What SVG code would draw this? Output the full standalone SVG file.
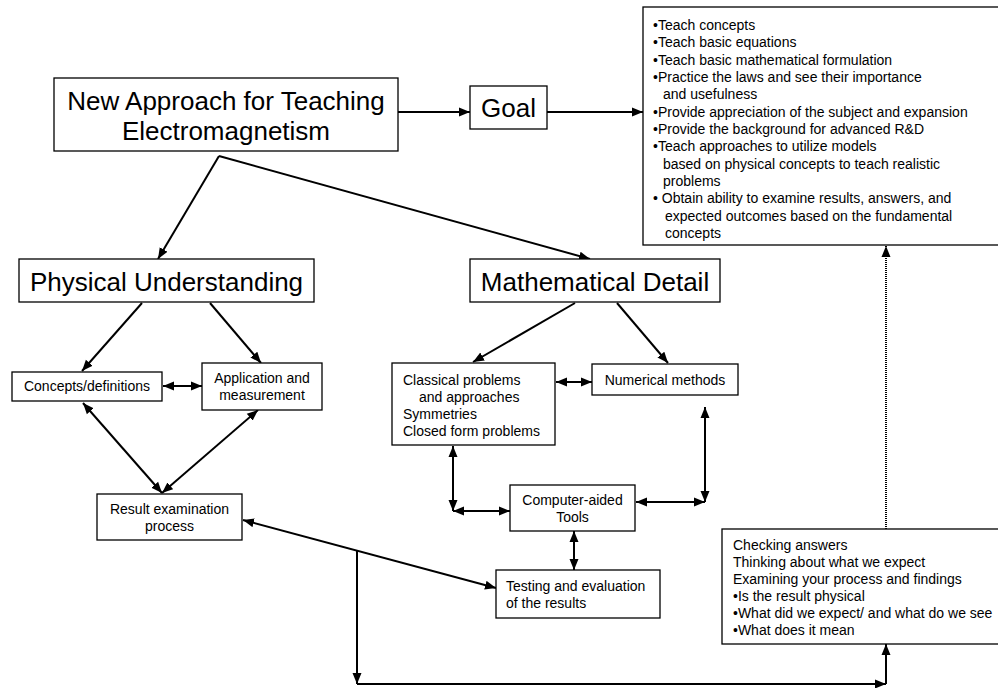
<svg xmlns="http://www.w3.org/2000/svg" width="998" height="688" viewBox="0 0 998 688">
<defs>
<style>
.box{fill:#fff;stroke:#000;stroke-width:1.3}
.big{font-family:"Liberation Sans",Arial,sans-serif;font-size:26px;fill:#000;text-anchor:middle}
.sm{font-family:"Liberation Sans",Arial,sans-serif;font-size:14px;fill:#000}
.c{text-anchor:middle}
.ln{fill:none;stroke:#000;stroke-width:2}
.one{marker-end:url(#ah)}
.two{marker-start:url(#ah);marker-end:url(#ah)}
.dot{stroke-dasharray:1 1}
</style>
<marker id="ah" markerUnits="userSpaceOnUse" markerWidth="12" markerHeight="10" viewBox="0 0 12 10" refX="11" refY="5" orient="auto-start-reverse">
<path d="M0,0.5 L11,5 L0,9.5 z" fill="#000"/>
</marker>
</defs>
<rect width="998" height="688" fill="#fff"/>
<g id="connectors">
<line class="ln one" x1="398" y1="112" x2="470" y2="112"/>
<line class="ln one" x1="547" y1="112" x2="643" y2="112"/>
<line class="ln one" x1="219" y1="156" x2="158" y2="259"/>
<line class="ln one" x1="219" y1="156" x2="590" y2="259"/>
<line class="ln one" x1="142" y1="303" x2="82" y2="371"/>
<line class="ln one" x1="210" y1="303" x2="261" y2="363"/>
<line class="ln two" x1="163" y1="386" x2="202" y2="386"/>
<line class="ln two" x1="83" y1="403" x2="162" y2="493"/>
<line class="ln two" x1="258" y1="410" x2="162" y2="493"/>
<line class="ln two" x1="243" y1="520" x2="496" y2="588"/>
<line class="ln one" x1="575" y1="303" x2="473" y2="362"/>
<line class="ln one" x1="617" y1="303" x2="668" y2="363"/>
<line class="ln two" x1="556" y1="382" x2="592" y2="382"/>
<line class="ln two" x1="453" y1="446" x2="453" y2="511"/>
<line class="ln two" x1="453" y1="511" x2="510" y2="511"/>
<line class="ln two" x1="705" y1="407" x2="705" y2="502"/>
<line class="ln two" x1="636" y1="502" x2="705" y2="502"/>
<line class="ln two" x1="574" y1="531" x2="574" y2="570"/>
<line class="ln one" x1="357" y1="551" x2="357" y2="684"/>
<line class="ln one" x1="357" y1="684" x2="886" y2="684"/>
<line class="ln one" x1="886" y1="684" x2="886" y2="644"/>
<line class="ln one dot" x1="886" y1="529" x2="886" y2="246"/>
</g>
<g id="main">
<rect class="box" x="54" y="78" width="344" height="73"/>
<text class="big" x="226" y="110">New Approach for Teaching</text>
<text class="big" x="226" y="140">Electromagnetism</text>
</g>
<g id="goal">
<rect class="box" x="470" y="86" width="77" height="43"/>
<text class="big" x="508.5" y="117">Goal</text>
</g>
<g id="goals-list">
<rect class="box" x="643" y="7" width="360" height="238"/>
<text class="sm" x="653" y="30">•Teach concepts</text>
<text class="sm" x="653" y="47.3">•Teach basic equations</text>
<text class="sm" x="653" y="64.7">•Teach basic mathematical formulation</text>
<text class="sm" x="653" y="82">•Practice the laws and see their importance</text>
<text class="sm" x="663" y="99.3">and usefulness</text>
<text class="sm" x="653" y="116.7">•Provide appreciation of the subject and expansion</text>
<text class="sm" x="653" y="134">•Provide the background for advanced R&amp;D</text>
<text class="sm" x="653" y="151.3">•Teach approaches to utilize models</text>
<text class="sm" x="663" y="168.7">based on physical concepts to teach realistic</text>
<text class="sm" x="663" y="186">problems</text>
<text class="sm" x="653" y="203.3">• Obtain ability to examine results, answers, and</text>
<text class="sm" x="665" y="220.7">expected outcomes based on the fundamental</text>
<text class="sm" x="665" y="238">concepts</text>
</g>
<g id="physical">
<rect class="box" x="19" y="259" width="295" height="43"/>
<text class="big" x="166.5" y="291">Physical Understanding</text>
</g>
<g id="mathematical">
<rect class="box" x="470" y="259" width="250" height="43"/>
<text class="big" x="595" y="291">Mathematical Detail</text>
</g>
<g id="concepts">
<rect class="box" x="12" y="372" width="150" height="29"/>
<text class="sm c" x="87" y="391">Concepts/definitions</text>
</g>
<g id="application">
<rect class="box" x="202" y="363" width="120" height="47"/>
<text class="sm c" x="262" y="383">Application and</text>
<text class="sm c" x="262" y="400">measurement</text>
</g>
<g id="result">
<rect class="box" x="97" y="494" width="145" height="46"/>
<text class="sm c" x="169.5" y="514">Result examination</text>
<text class="sm c" x="169.5" y="531">process</text>
</g>
<g id="classical">
<rect class="box" x="392" y="363" width="163" height="82"/>
<text class="sm" x="403" y="385">Classical problems</text>
<text class="sm" x="419" y="402">and approaches</text>
<text class="sm" x="403" y="419">Symmetries</text>
<text class="sm" x="403" y="436">Closed form problems</text>
</g>
<g id="numerical">
<rect class="box" x="592" y="364" width="146" height="31"/>
<text class="sm c" x="665" y="385">Numerical methods</text>
</g>
<g id="computer">
<rect class="box" x="510" y="485" width="125" height="46"/>
<text class="sm c" x="572.5" y="505">Computer-aided</text>
<text class="sm c" x="572.5" y="522">Tools</text>
</g>
<g id="testing">
<rect class="box" x="496" y="570" width="164" height="48"/>
<text class="sm" x="506" y="591">Testing and evaluation</text>
<text class="sm" x="506" y="608">of the results</text>
</g>
<g id="checking">
<rect class="box" x="722" y="529" width="290" height="115"/>
<text class="sm" x="733" y="550">Checking answers</text>
<text class="sm" x="733" y="567">Thinking about what we expect</text>
<text class="sm" x="733" y="584">Examining your process and findings</text>
<text class="sm" x="733" y="601">•Is the result physical</text>
<text class="sm" x="733" y="618">•What did we expect/ and what do we see</text>
<text class="sm" x="733" y="635">•What does it mean</text>
</g>
</svg>
